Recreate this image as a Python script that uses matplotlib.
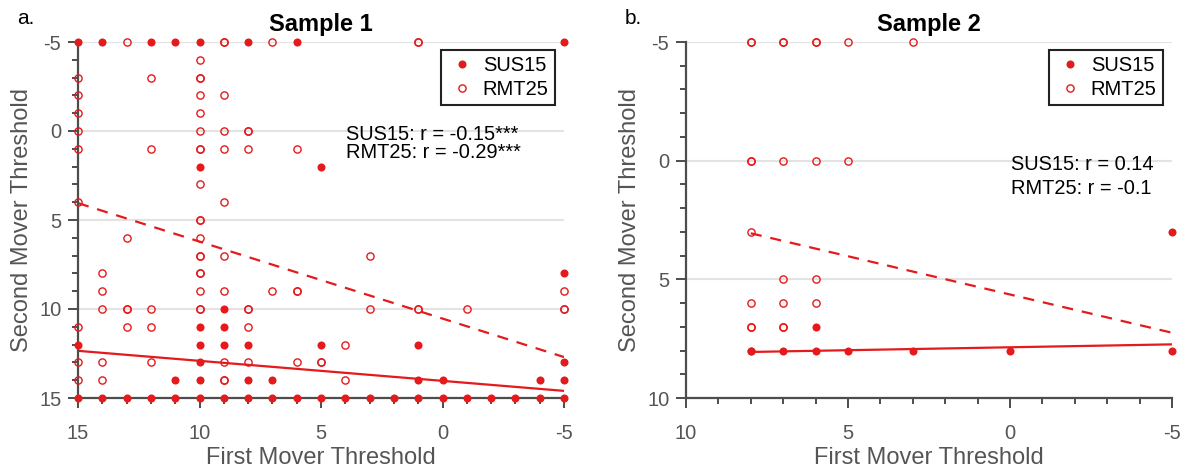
import matplotlib.pyplot as plt
from matplotlib.ticker import MultipleLocator

RED = '#e41a1c'
GREY = '#4d4d4d'

# ---- Sample 1 ----
s1_sus_x = [15, 14, 12, 11, 10, 8, 6, -5,
            10, 5,
            -5,
            9,
            10, 9,
            15, 10, 9, 8, 5, 1,
            10, -5,
            11, 10, 8, 7, 1, 0, -4, -5,
            15, 14, 13, 12, 11, 10, 9, 8, 7, 6, 5, 4, 3, 2, 1, 0, -1, -2, -3, -4, -5]
s1_sus_y = [-5, -5, -5, -5, -5, -5, -5, -5,
            2, 2,
            8,
            10,
            11, 11,
            12, 12, 12, 12, 12, 12,
            13, 13,
            14, 14, 14, 14, 14, 14, 14, 14,
            15, 15, 15, 15, 15, 15, 15, 15, 15, 15, 15, 15, 15, 15, 15, 15, 15, 15, 15, 15, 15]

s1_rmt_x = [13, 9, 9, 7, 1, 1,
            10,
            15, 12, 10, 10,
            15, 10, 9,
            15, 10,
            15, 10, 9, 8, 8,
            15, 12, 10, 10, 9, 8, 6,
            10,
            15, 9,
            10, 10,
            13, 10,
            10, 10, 9, 3,
            14, 10, 10,
            14, 10, 9, 7, 6, 6, -5,
            14, 13, 13, 12, 10, 10, 8, 8, 3, 1, 1, -1, -5, -5,
            15, 13, 12, 8,
            4,
            15, 14, 12, 9, 8, 6, 5, 5,
            15, 14, 9, 9, 4]
s1_rmt_y = [-5, -5, -5, -5, -5, -5,
            -4,
            -3, -3, -3, -3,
            -2, -2, -2,
            -1, -1,
            0, 0, 0, 0, 0,
            1, 1, 1, 1, 1, 1, 1,
            3,
            4, 4,
            5, 5,
            6, 6,
            7, 7, 7, 7,
            8, 8, 8,
            9, 9, 9, 9, 9, 9, 9,
            10, 10, 10, 10, 10, 10, 10, 10, 10, 10, 10, 10, 10, 10,
            11, 11, 11, 11,
            12,
            13, 13, 13, 13, 13, 13, 13, 13,
            14, 14, 14, 14, 14]

# fitted lines (x range and y at the ends)
s1_sus_fit_x = [15, -5]
s1_sus_fit_y = [12.35, 14.6]
s1_rmt_fit_x = [15, -5]
s1_rmt_fit_y = [4.05, 12.7]

# ---- Sample 2 ----
s2_sus_x = [-5, 6, 8, 8, 7, 6, 5, 3, 0, -5]
s2_sus_y = [3, 7, 8, 8, 8, 8, 8, 8, 8, 8]

s2_rmt_x = [8, 8, 7, 7, 6, 6, 5, 3,
            8, 8, 7, 6, 5,
            8,
            7, 6,
            8, 7, 6,
            8, 8, 7, 7]
s2_rmt_y = [-5, -5, -5, -5, -5, -5, -5, -5,
            0, 0, 0, 0, 0,
            3,
            5, 5,
            6, 6, 6,
            7, 7, 7, 7]

s2_sus_fit_x = [8, -5]
s2_sus_fit_y = [8.06, 7.74]
s2_rmt_fit_x = [8, -5]
s2_rmt_fit_y = [3.06, 7.25]

panels = [
    dict(title="Sample 1", letter="a.", xlim=(15, -5), ylim=(15, -5),
         sus=(s1_sus_x, s1_sus_y), rmt=(s1_rmt_x, s1_rmt_y),
         sus_fit=(s1_sus_fit_x, s1_sus_fit_y), rmt_fit=(s1_rmt_fit_x, s1_rmt_fit_y),
         txt=["SUS15: r = -0.15***", "RMT25: r = -0.29***"], txt_pos=(0.551, 0.768), txt_dy=0.0506),
    dict(title="Sample 2", letter="b.", xlim=(10, -5), ylim=(10, -5),
         sus=(s2_sus_x, s2_sus_y), rmt=(s2_rmt_x, s2_rmt_y),
         sus_fit=(s2_sus_fit_x, s2_sus_fit_y), rmt_fit=(s2_rmt_fit_x, s2_rmt_fit_y),
         txt=["SUS15: r = 0.14", "RMT25: r = -0.1"], txt_pos=(0.668, 0.683), txt_dy=0.0674),
]

plt.rcParams['font.family'] = ['Liberation Sans', 'DejaVu Sans']
plt.rcParams['axes.unicode_minus'] = False

fig = plt.figure(figsize=(11.88, 4.76), dpi=100)
lefts = [78 / 1188, 686 / 1188]

for left, p in zip(lefts, panels):
    ax = fig.add_axes([left, 1 - 398 / 476, 486 / 1188, 356 / 476])
    ax.set_xlim(*p['xlim'])
    ax.set_ylim(*p['ylim'])

    ax.plot(p['sus'][0], p['sus'][1], 'o', color=RED, ms=5.8, mew=0,
            label="SUS15", zorder=3, clip_on=False)
    ax.plot(p['rmt'][0], p['rmt'][1], 'o', mfc='none', mec=RED, ms=5.2, mew=1.0,
            label="RMT25", zorder=4, clip_on=False)
    ax.plot(*p['sus_fit'], '-', color=RED, lw=1.6, zorder=2)
    ax.plot(*p['rmt_fit'], '--', color=RED, lw=1.6, dashes=(5, 4), zorder=2)

    ax.xaxis.set_major_locator(MultipleLocator(5))
    ax.yaxis.set_major_locator(MultipleLocator(5))
    ax.xaxis.set_minor_locator(MultipleLocator(1))
    ax.yaxis.set_minor_locator(MultipleLocator(1))
    ax.grid(axis='y', which='major', color='#e3e3e3', lw=1.5, zorder=0)
    ax.set_axisbelow(True)

    for side in ['top', 'right']:
        ax.spines[side].set_visible(False)
    for side in ['left', 'bottom']:
        ax.spines[side].set_color(GREY)
        ax.spines[side].set_linewidth(1.6)
    ax.tick_params(which='major', length=7, width=1.4, color=GREY, labelcolor='#555555',
                   labelsize=14.5)
    ax.tick_params(which='minor', length=4, width=1.4, color=GREY)
    ax.tick_params(axis='x', which='major', pad=12)
    ax.tick_params(axis='y', which='major', pad=5)

    ax.set_xlabel("First Mover Threshold", fontsize=17, color='#555555')
    ax.set_ylabel("Second Mover Threshold", fontsize=17, color='#555555')
    ax.xaxis.set_label_coords(0.5, -0.139)
    ax.yaxis.set_label_coords(-0.093, 0.5)
    ax.set_title(p['title'], fontsize=17, fontweight='bold', pad=8)

    leg = ax.legend(loc='upper right', bbox_to_anchor=(0.981, 0.978), borderaxespad=0,
                    fontsize=14.5, fancybox=False, framealpha=1, edgecolor='#222222',
                    handletextpad=0.3, borderpad=0.3, labelspacing=0.25, handlelength=1.5)
    leg.get_frame().set_linewidth(1.5)

    x0, y0 = p['txt_pos']
    for i, t in enumerate(p['txt']):
        ax.text(x0, y0 - i * p['txt_dy'], t, transform=ax.transAxes, fontsize=14.4,
                va='top', ha='left')

    fig.text(left - 61 / 1188, 1 - 18 / 476, p['letter'], fontsize=15, va='center', ha='left')

fig.savefig("out.png", dpi=100)
